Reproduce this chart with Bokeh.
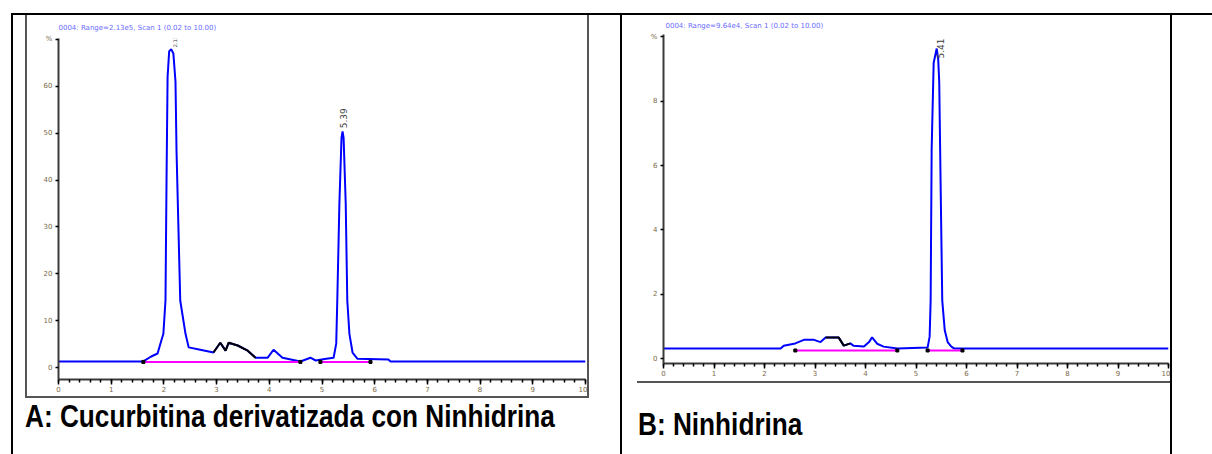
import math
from bokeh.plotting import figure
from bokeh.models import Range1d, FixedTicker, Label, Div
from bokeh.layouts import row, column
from bokeh.embed import file_html
from bokeh.resources import INLINE

# ---------------- data ----------------
A_time = [0, 1.61, 1.75, 1.88, 1.95, 1.99, 2.03, 2.05, 2.07, 2.10, 2.14, 2.18, 2.22, 2.24, 2.31,
          2.41, 2.47, 2.69, 2.94, 3.07, 3.17, 3.23, 3.40, 3.59, 3.74, 3.97, 4.08, 4.25, 4.59,
          4.78, 4.88, 5.05, 5.22, 5.27, 5.29, 5.33, 5.37, 5.39, 5.41, 5.45, 5.48, 5.52, 5.58,
          5.67, 6.26, 6.30, 10]
A_signal = [1.3, 1.3, 2.3, 3.0, 5.7, 7.2, 14.3, 40, 62, 67.5, 67.9, 67, 61, 46, 14.3,
            7.2, 4.3, 3.8, 3.2, 5.3, 3.6, 5.3, 4.7, 3.6, 2.1, 2.1, 3.8, 2.1, 1.3,
            2.1, 1.5, 1.8, 2.1, 5.1, 14.3, 35, 49, 50.4, 49, 35, 14.3, 7.2, 3.2,
            1.9, 1.7, 1.3, 1.3]
A_black_from, A_black_to = 18, 24          # integrated part drawn in black (indices)
A_base_start = [1.61, 4.97]
A_base_end = [4.59, 5.92]
A_base_level = [1.2, 1.2]
A_marks = [1.61, 4.59, 4.97, 5.92]
A_peak_rt = [2.13, 5.39]
A_peak_height = [67.9, 50.4]
A_peak_text = ["2.13", "5.39"]

B_time = [0, 2.32, 2.38, 2.61, 2.78, 2.98, 3.11, 3.21, 3.47, 3.57, 3.70, 3.76, 3.97, 4.07,
          4.13, 4.23, 4.36, 4.63, 5.23, 5.27, 5.29, 5.31, 5.35, 5.41, 5.44, 5.46, 5.50, 5.52,
          5.57, 5.63, 5.70, 5.76, 10]
B_signal = [0.31, 0.31, 0.40, 0.47, 0.58, 0.58, 0.51, 0.65, 0.65, 0.40, 0.47, 0.40, 0.37, 0.51,
            0.66, 0.46, 0.37, 0.31, 0.34, 0.68, 1.8, 6.5, 9.2, 9.64, 9.3, 8.6, 4.0, 1.8,
            0.87, 0.50, 0.37, 0.31, 0.31]
B_black_from, B_black_to = 7, 10
B_base_start = [2.61, 5.23]
B_base_end = [4.63, 5.92]
B_base_level = [0.25, 0.25]
B_marks = [2.61, 4.63, 5.23, 5.92]
B_peak_rt = [5.41]
B_peak_height = [9.64]
B_peak_text = ["5.41"]

x_ticks = [0, 1, 2, 3, 4, 5, 6, 7, 8, 9, 10]
x_tick_labels = ["0", "1", "2", "3", "4", "5", "6", "7", "8", "9", "10"]
A_y_ticks = [0, 10, 20, 30, 40, 50, 60, 70]
A_y_labels = ["0", "10", "20", "30", "40", "50", "60", "%"]
B_y_ticks = [0, 2, 4, 6, 8, 10]
B_y_labels = ["0", "2", "4", "6", "8", "%"]

A_header = "0004: Range=2.13e5, Scan 1 (0.02 to 10.00)"
B_header = "0004: Range=9.64e4, Scan 1 (0.02 to 10.00)"
A_caption = "A: Cucurbitina derivatizada con Ninhidrina"
B_caption = "B: Ninhidrina"

# ---------------- layout constants (page pixels) ----------------
W, H = 1212, 454
TICK_COLOR = "#7a6848"
FRAME_GRAY = "#555555"
CAP_FONT = "'Liberation Sans', Arial, sans-serif"


def bar(w, h, color):
    return Div(text="", width=w, height=h, margin=(0, 0, 0, 0),
               styles={"background-color": color})


def gap(w, h):
    return Div(text="", width=w, height=h, margin=(0, 0, 0, 0))


def caption(text, w, h, top, left):
    html = ('<div style="font-family:%s;font-weight:bold;font-size:31px;line-height:31px;'
            'color:black;white-space:nowrap;margin:%dpx 0 0 %dpx;padding:0;'
            'transform:scaleX(0.845);transform-origin:0 0">%s</div>'
            % (CAP_FONT, top, left, text))
    return Div(text=html, width=w, height=h, margin=(0, 0, 0, 0))


def make_panel(fig_box, frame_box, y0px, yscale, xscale, header, title_standoff):
    fx0, fy0, fx1, fy1 = fig_box
    x0px, ytop, x1px, ybot = frame_box
    fx = lambda px: (px - x0px) / xscale
    fy = lambda py: (y0px - py) / yscale
    p = figure(width=fx1 - fx0, height=fy1 - fy0, output_backend="svg", toolbar_location=None,
               x_range=Range1d(fx(x0px), fx(x1px)), y_range=Range1d(fy(ybot), fy(ytop)),
               min_border_left=x0px - fx0, min_border_right=fx1 - x1px,
               min_border_top=ytop - fy0, min_border_bottom=fy1 - ybot)
    p.outline_line_color = None
    p.grid.visible = False
    p.background_fill_color = "white"
    p.border_fill_color = "white"
    p.title.text = header
    p.title.text_font_size = "7px"
    p.title.text_font = "DejaVu Sans"
    p.title.text_font_style = "normal"
    p.title.text_color = "#6b6bff"
    p.title.align = "left"
    p.title.standoff = title_standoff
    for ax in (p.xaxis[0], p.yaxis[0]):
        ax.axis_line_color = "#3a3a3a"
        ax.axis_line_width = 2
        ax.major_tick_line_color = "black"
        ax.major_tick_line_width = 1.5
        ax.major_tick_in = 0
        ax.major_label_text_font_size = "7px"
        ax.major_label_text_color = TICK_COLOR
        ax.major_label_text_font = "DejaVu Sans"
    p.xaxis.major_tick_out = 5
    p.xaxis.minor_tick_out = 3
    p.xaxis.minor_tick_in = 0
    p.xaxis.minor_tick_line_color = "black"
    p.xaxis.minor_tick_line_width = 1.5
    p.xaxis.major_label_standoff = 1
    p.yaxis.major_tick_out = 3
    p.yaxis.major_label_standoff = 3
    p.yaxis.minor_tick_line_color = None
    p.xaxis.ticker = FixedTicker(ticks=x_ticks, minor_ticks=[i * 0.2 for i in range(51)])
    p.xaxis.major_label_overrides = dict(zip(x_ticks, x_tick_labels))
    return p


def draw_trace(p, t, s, bfrom, bto, bs, be, bl, marks):
    p.line(t, s, line_color="#0000ff", line_width=2)
    p.line(t[bfrom:bto + 1], s[bfrom:bto + 1], line_color="black", line_width=2)
    p.segment(x0=bs, x1=be, y0=bl, y1=bl, line_color="#ff00ff", line_width=2)
    p.scatter(marks, [bl[0]] * len(marks), marker="square", size=3,
              fill_color="black", line_color="black")


def peak_labels(p, rts, heights, texts, offsets):
    for rt, h, txt, (dx, dy, fs) in zip(rts, heights, texts, offsets):
        p.add_layout(Label(x=rt, y=h, x_offset=dx, y_offset=dy, text=txt, angle=math.pi / 2,
                           text_align="left", text_baseline="middle", text_font_size=fs,
                           text_color="#404040", text_font="DejaVu Sans"))


# ---------------- panel A (picture box x 25..589, y 15..398) ----------------
pA = make_panel((27, 15, 587, 396), (58, 37, 585, 379), 367, 4.7, 52.7, A_header, 13)
pA.yaxis.ticker = FixedTicker(ticks=A_y_ticks)
pA.yaxis.major_label_overrides = dict(zip(A_y_ticks, A_y_labels))
draw_trace(pA, A_time, A_signal, A_black_from, A_black_to, A_base_start, A_base_end,
           A_base_level, A_marks)
peak_labels(pA, A_peak_rt, A_peak_height, A_peak_text, [(4, 2, "5px"), (1, 3, "9px")])

# ---------------- panel B (picture box x 637..1170, y 15..383) ----------------
pB = make_panel((637, 15, 1170, 381), (663, 33, 1168, 363), 358, 32.25, 50.5, B_header, 9)
pB.title.offset = 2
pB.yaxis.ticker = FixedTicker(ticks=B_y_ticks)
pB.yaxis.major_label_overrides = dict(zip(B_y_ticks, B_y_labels))
draw_trace(pB, B_time, B_signal, B_black_from, B_black_to, B_base_start, B_base_end,
           B_base_level, B_marks)
peak_labels(pB, B_peak_rt, B_peak_height, B_peak_text, [(4, -10, "9px")])

# ---------------- table cells ----------------
cellA = column(
    row(bar(2, 381, FRAME_GRAY), pA, bar(2, 381, FRAME_GRAY)),
    bar(564, 2, FRAME_GRAY),
    caption(A_caption, 564, 56, 3, 0),
)
cellB = column(
    pB,
    bar(533, 2, FRAME_GRAY),
    caption(B_caption, 533, 71, 26, 1),
)
body = row(
    gap(11, 439), bar(2, 439, "black"), gap(12, 439),
    cellA,
    gap(31, 439), bar(2, 439, "black"), gap(15, 439),
    cellB,
    bar(2, 439, "black"), gap(40, 439),
)
page = column(
    gap(W, 13),
    row(gap(11, 2), bar(W - 11, 2, "black")),
    body,
)
open("out.html", "w").write(file_html(page, INLINE))
